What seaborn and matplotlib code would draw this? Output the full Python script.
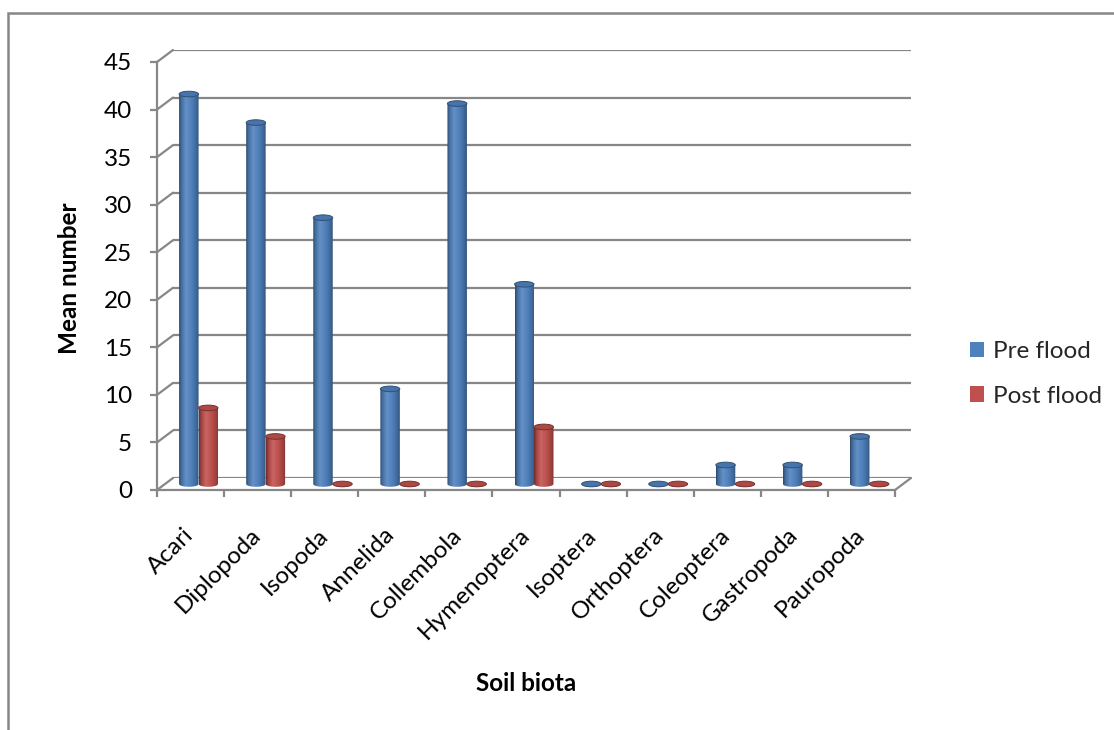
import numpy as np
import pandas as pd
import matplotlib
matplotlib.use("Agg")
import matplotlib.pyplot as plt
import seaborn as sns
from matplotlib.patches import Rectangle, Ellipse, PathPatch, Patch, ConnectionPatch
from matplotlib.path import Path
from matplotlib.colors import LinearSegmentedColormap, to_rgb

# ---- data -------------------------------------------------------------
taxa = ["Acari", "Diplopoda", "Isopoda", "Annelida", "Collembola",
        "Hymenoptera", "Isoptera", "Orthoptera", "Coleoptera",
        "Gastropoda", "Pauropoda"]
pre_flood = [41, 38, 28, 10, 40, 21, 0, 0, 2, 2, 5]
post_flood = [8, 5, 0, 0, 0, 6, 0, 0, 0, 0, 0]
series = ["Pre flood", "Post flood"]
y_ticks = [0, 5, 10, 15, 20, 25, 30, 35, 40, 45]

colors = ["#4F81BD", "#C0504D"]
grid_grey = "#878787"
fs = 17.5

df = pd.DataFrame({
    "taxon": taxa * 2,
    "value": pre_flood + post_flood,
    "period": [series[0]] * len(taxa) + [series[1]] * len(taxa),
})

sns.set_theme(style="ticks")
plt.rcParams["font.family"] = ["Lato", "DejaVu Sans"]

W, H = 1114, 730
fig = plt.figure(figsize=(W / 100, H / 100), dpi=100)

# front plane of the 3-D box, in pixels
fx0, fx1 = 157, 895
fy_zero, fy_top = 490, 62
ymax = y_ticks[-1]
ppu = (fy_zero - fy_top) / ymax          # pixels per data unit
depth = (16, 12)                          # front -> back wall shift
xlim = (-0.5, len(taxa) - 0.5)


def plane_axes(dx, dy, below=0.0):
    """Axes sharing the same scales, shifted by (dx, dy) pixels."""
    left = (fx0 + dx) / W
    bottom = (H - (fy_zero - dy) - below * ppu) / H
    width = (fx1 - fx0) / W
    height = (fy_zero - fy_top + below * ppu) / H
    ax = fig.add_axes([left, bottom, width, height])
    ax.set_xlim(*xlim)
    ax.set_ylim(-below, ymax)
    ax.patch.set_alpha(0)
    return ax


# ---- back wall with gridlines -----------------------------------------
ax_back = plane_axes(*depth)
ax_back.hlines(y_ticks, xlim[0], xlim[1], color=grid_grey, lw=1.6)
ax_back.set_axis_off()

# ---- cylinders (middle depth) -----------------------------------------
below = 1.0
ax_mid = plane_axes(depth[0] / 2, depth[1] / 2, below=below)
sns.barplot(data=df, x="taxon", y="value", hue="period", palette=colors,
            width=0.58, saturation=1, legend=False, ax=ax_mid)
bars = list(ax_mid.patches)


def shade(c, f):
    r = np.array(to_rgb(c))
    return tuple(np.clip(r * f, 0, 1)) if f <= 1 else tuple(r + (1 - r) * (f - 1))


e = 2.8 / ppu    # half height of the elliptical ends, data units
for b in bars:
    x, w, h = b.get_x(), b.get_width(), b.get_height()
    base = b.get_facecolor()[:3]
    b.set_visible(False)
    cmap = LinearSegmentedColormap.from_list(
        "cyl", [(0.0, shade(base, 0.55)), (0.12, shade(base, 0.85)),
                (0.35, shade(base, 1.12)), (0.65, shade(base, 0.98)),
                (0.9, shade(base, 0.78)), (1.0, shade(base, 0.6))])
    th = np.linspace(np.pi, 2 * np.pi, 40)
    bottom_arc = np.column_stack([x + w / 2 + (w / 2) * np.cos(th), e * np.sin(th)])
    verts = np.vstack([[x, h], [x, 0], bottom_arc, [x + w, 0], [x + w, h], [x, h]])
    codes = [Path.MOVETO] + [Path.LINETO] * (len(verts) - 2) + [Path.CLOSEPOLY]
    body = PathPatch(Path(verts, codes), transform=ax_mid.transData,
                     facecolor="none", edgecolor="none")
    ax_mid.add_patch(body)
    im = ax_mid.imshow(np.linspace(0, 1, 256).reshape(1, -1), cmap=cmap,
                       extent=[x, x + w, -e, h + 0.01], aspect="auto",
                       origin="lower", interpolation="bilinear", zorder=2)
    im.set_clip_path(body)
    cap = Ellipse((x + w / 2, h), w, 2 * e, facecolor=shade(base, 0.9),
                  edgecolor=shade(base, 0.62), lw=0.7, zorder=3)
    ax_mid.add_patch(cap)

ax_mid.set_xlim(*xlim)
ax_mid.set_ylim(-below, ymax)
ax_mid.set_axis_off()

# ---- front plane: axes lines, ticks, labels ---------------------------
ax = plane_axes(0, 0)
for s in ["top", "right"]:
    ax.spines[s].set_visible(False)
for s in ["left", "bottom"]:
    ax.spines[s].set_color(grid_grey)
    ax.spines[s].set_linewidth(1.6)
ax.set_yticks(y_ticks)
ax.set_yticklabels([str(v) for v in y_ticks])
ax.set_xticks(range(len(taxa)))
ax.set_xticklabels(taxa)
ax.set_xticks(np.arange(-0.5, len(taxa), 1), minor=True)
ax.tick_params(axis="y", which="major", left=True, length=5, width=1.6,
               color=grid_grey, labelsize=fs, pad=13, labelcolor="black")
ax.tick_params(axis="x", which="major", bottom=True, length=0,
               labelsize=fs, pad=30, labelcolor="black")
ax.tick_params(axis="x", which="minor", bottom=True, length=5, width=1.6,
               color=grid_grey)
plt.setp(ax.get_xticklabels(), rotation=45, ha="right", va="center",
         rotation_mode="anchor")
ax.set_xlim(*xlim)
ax.set_ylim(0, ymax)

ax.set_ylabel("Mean number", fontsize=fs, fontweight="bold", color="black")
ax.yaxis.set_label_coords((81 - fx0) / (fx1 - fx0), 0.495)
ax.set_xlabel("Soil biota", fontsize=fs, fontweight="bold", color="black")
ax.xaxis.set_label_coords(0.5, (fy_zero - 672) / (fy_zero - fy_top))

# depth edges joining the front plane to the back wall
for v in y_ticks:
    fig.add_artist(ConnectionPatch(xyA=(xlim[0], v), coordsA=ax.transData,
                                   xyB=(xlim[0], v), coordsB=ax_back.transData,
                                   color=grid_grey, lw=1.6))
fig.add_artist(ConnectionPatch(xyA=(xlim[1], 0), coordsA=ax.transData,
                               xyB=(xlim[1], 0), coordsB=ax_back.transData,
                               color=grid_grey, lw=1.6))

# ---- legend -------------------------------------------------------------
handles = [Patch(facecolor=c, edgecolor="none") for c in colors]
fig.legend(handles, series, loc="center left",
           bbox_to_anchor=(970 / W, 1 - 374 / H), frameon=False, fontsize=fs,
           handlelength=0.58, handleheight=0.58, handletextpad=0.35,
           labelspacing=0.95, borderpad=0, borderaxespad=0)

# chart area border
fig.add_artist(Rectangle((8 / W, -0.2), 1.5, (H - 13) / H + 0.2,
                         transform=fig.transFigure, fill=False,
                         edgecolor=grid_grey, lw=1.8))

fig.savefig("out.png", dpi=100)
